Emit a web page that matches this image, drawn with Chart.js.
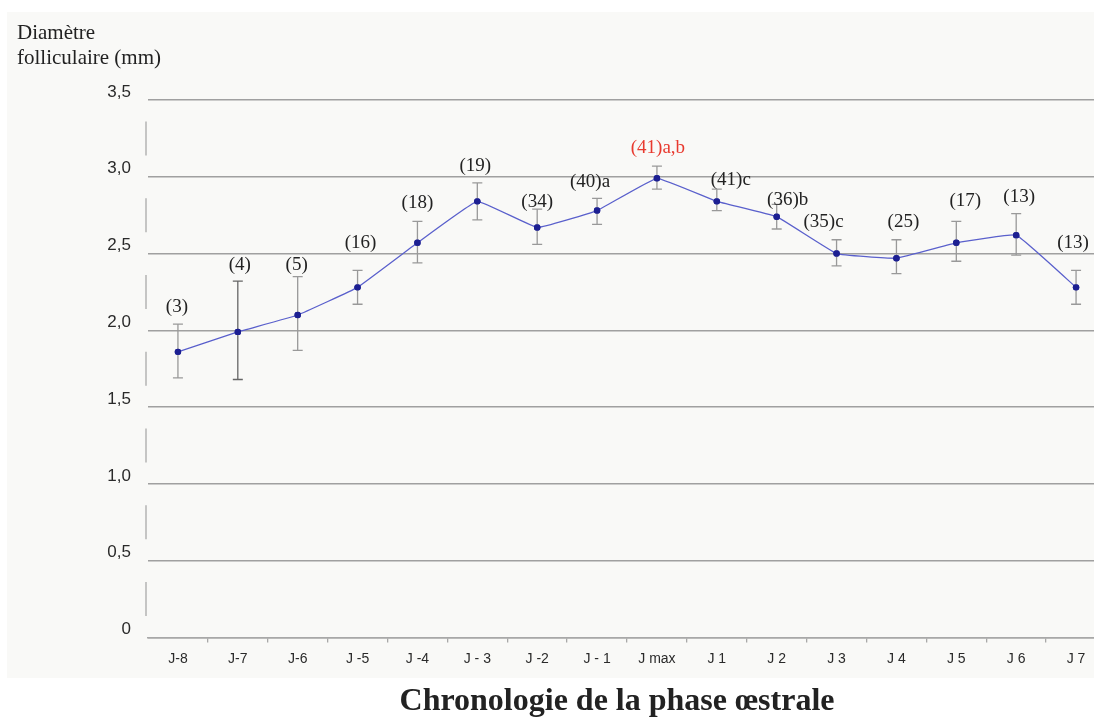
<!DOCTYPE html>
<html lang="fr">
<head>
<meta charset="UTF-8">
<title>Diamètre folliculaire - phase œstrale</title>
<style>
    html, body { margin: 0; padding: 0; background: #fff; overflow: hidden; }
    #wrap { width: 1094px; height: 720px; overflow: hidden; position: relative; }
    canvas { display: block; }
</style>
</head>
<body>
<div id="wrap">
    <canvas id="chart" width="1110" height="720"></canvas>
</div>

<script src="https://cdn.jsdelivr.net/npm/chart.js"></script>
<script>
    // data
    const days = ['J-8', 'J-7', 'J-6', 'J -5', 'J -4', 'J - 3', 'J -2', 'J - 1', 'J max', 'J 1', 'J 2', 'J 3', 'J 4', 'J 5', 'J 6', 'J 7'];
    const meanDiam = [1.86, 1.99, 2.10, 2.28, 2.57, 2.84, 2.67, 2.78, 2.99, 2.84, 2.74, 2.50, 2.47, 2.57, 2.62, 2.28];
    const errHigh = [2.04, 2.32, 2.35, 2.39, 2.71, 2.96, 2.79, 2.86, 3.07, 2.92, 2.82, 2.59, 2.59, 2.71, 2.76, 2.39];
    const errLow = [1.69, 1.68, 1.87, 2.17, 2.44, 2.72, 2.56, 2.69, 2.92, 2.78, 2.66, 2.42, 2.37, 2.45, 2.49, 2.17];
    const nLabels = ['(3)', '(4)', '(5)', '(16)', '(18)', '(19)', '(34)', '(40)a', '(41)a,b', '(41)c', '(36)b', '(35)c', '(25)', '(17)', '(13)', '(13)'];
    const yTicks = [0, 0.5, 1.0, 1.5, 2.0, 2.5, 3.0, 3.5];

    // where each (n) label sits, relative to the top of its error bar
    const labelDx = [-1, 2, -1, 3, 0, -2, 0, -7, 1, 14, 11, -13, 7, 9, 3, -3];
    const labelDy = [-17, -16, -12, -27, -18, -17, -7, -16, -18, -9, -4, -18, -18, -20, -17, -27];

    const serif = '"Liberation Serif", "DejaVu Serif", serif';
    const sans = '"Liberation Sans", Arial, sans-serif';

    // background panel, y title, broken y axis, error bars, n labels, x title
    const decor = {
        id: 'decor',
        beforeDraw(chart) {
            const c = chart.ctx;
            const y = chart.scales.y;
            const left = chart.chartArea.left;
            c.save();
            c.fillStyle = '#ffffff';
            c.fillRect(0, 0, chart.width, chart.height);
            c.fillStyle = '#f9f9f7';
            c.fillRect(7, 12, chart.width - 7, 666);
            c.fillStyle = '#222';
            c.font = '21px ' + serif;
            c.textBaseline = 'middle';
            c.textAlign = 'left';
            c.fillText('Diamètre', 17, 33);
            c.fillText('folliculaire (mm)', 17, 58);

            // short axis pieces between the gridlines
            c.strokeStyle = '#b4b4b4';
            c.lineWidth = 1.5;
            c.beginPath();
            for (let i = 0; i < yTicks.length - 1; i++) {
                const mid = (y.getPixelForValue(yTicks[i]) + y.getPixelForValue(yTicks[i + 1])) / 2;
                c.moveTo(left - 2, mid - 17);
                c.lineTo(left - 2, mid + 17);
            }
            c.stroke();
            c.restore();
        },
        afterDatasetsDraw(chart) {
            const c = chart.ctx;
            const x = chart.scales.x, y = chart.scales.y;
            c.save();
            for (let i = 0; i < days.length; i++) {
                const px = x.getPixelForValue(i);
                const top = y.getPixelForValue(errHigh[i]);
                const bot = y.getPixelForValue(errLow[i]);
                c.strokeStyle = i === 1 ? '#666' : '#999';
                c.lineWidth = 1.3;
                c.beginPath();
                c.moveTo(px, top); c.lineTo(px, bot);
                c.moveTo(px - 5, top); c.lineTo(px + 5, top);
                c.moveTo(px - 5, bot); c.lineTo(px + 5, bot);
                c.stroke();

                c.font = '19px ' + serif;
                c.textAlign = 'center';
                c.textBaseline = 'middle';
                c.fillStyle = nLabels[i] === '(41)a,b' ? '#e8392e' : '#222';
                c.fillText(nLabels[i], px + labelDx[i], top + labelDy[i]);
            }
            // redraw the points over the error bars
            const meta = chart.getDatasetMeta(0);
            meta.data.forEach(p => p.draw(c, chart.chartArea));

            c.fillStyle = '#222';
            c.font = 'bold 32px ' + serif;
            c.textAlign = 'center';
            c.textBaseline = 'middle';
            c.fillText('Chronologie de la phase œstrale', 617, 702);
            c.restore();
        }
    };

    const ctx = document.getElementById('chart').getContext('2d');
    const chart = new Chart(ctx, {
        type: 'line',
        data: {
            labels: days,
            datasets: [{
                label: 'Diamètre folliculaire',
                data: meanDiam,
                borderColor: '#5a60cc',
                borderWidth: 1.3,
                tension: 0.08,
                pointRadius: 3.2,
                pointBackgroundColor: '#1c1f92',
                pointBorderColor: '#1c1f92',
                pointBorderWidth: 0
            }]
        },
        options: {
            responsive: false,
            animation: false,
            layout: { padding: { top: 100, right: 3, bottom: 40, left: 0 } },
            plugins: {
                legend: { display: false },
                tooltip: { enabled: false }
            },
            scales: {
                x: {
                    offset: true,
                    afterFit(scale) { scale.height = 42.5; },
                    grid: {
                        offset: true,
                        drawOnChartArea: false,
                        drawTicks: true,
                        tickLength: 5,
                        color: ctx => ctx.index === 0 ? 'rgba(0,0,0,0)' : '#a8a8a8',
                        lineWidth: 1.3
                    },
                    border: { display: true, color: '#a8a8a8', width: 1.5 },
                    ticks: {
                        color: '#2a2a2a',
                        font: { family: sans, size: 14 },
                        padding: 8,
                        maxRotation: 0,
                        autoSkip: false
                    }
                },
                y: {
                    min: 0,
                    max: 3.5,
                    afterFit(scale) { scale.width = 148; },
                    afterBuildTicks(scale) { scale.ticks = yTicks.map(v => ({ value: v })); },
                    grid: {
                        drawTicks: false,
                        color: '#a0a0a0',
                        lineWidth: 1.4
                    },
                    border: { display: false },
                    ticks: {
                        color: '#2a2a2a',
                        font: { family: sans, size: 17 },
                        padding: 17,
                        labelOffset: -8,
                        callback: v => v === 0 ? '0' : v.toFixed(1).replace('.', ',')
                    }
                }
            }
        },
        plugins: [decor]
    });
</script>
</body>
</html>
